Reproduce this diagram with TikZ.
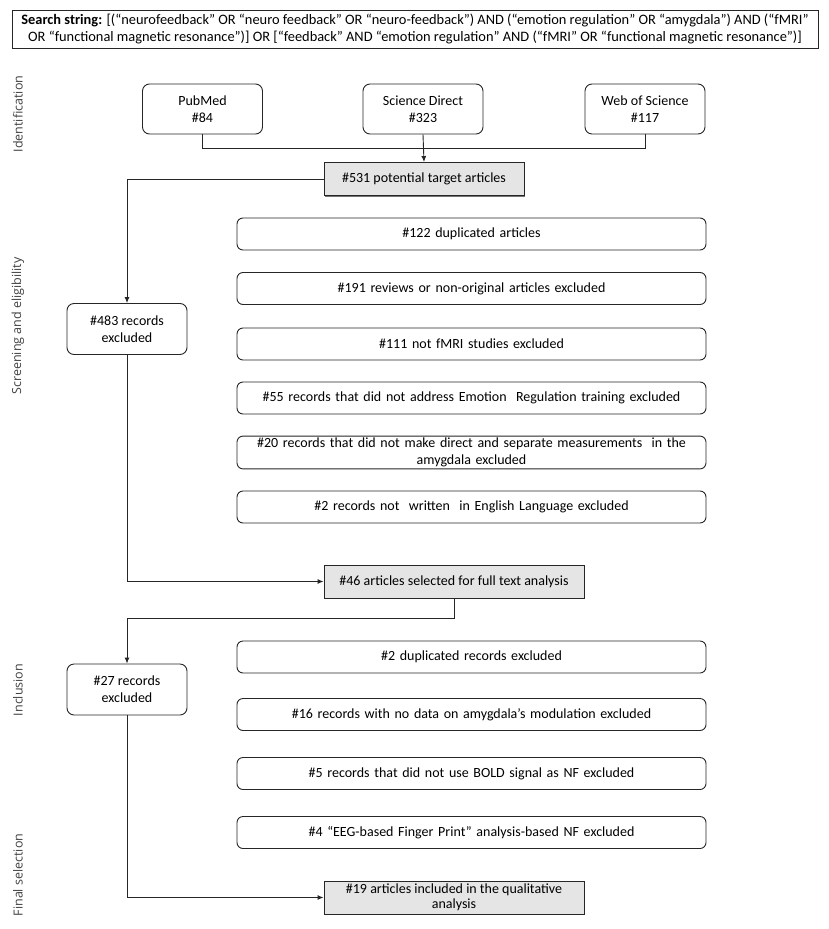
\documentclass[tikz,border=0pt]{standalone}
\usepackage{fontspec}
\setmainfont{Carlito}
\newfontfamily\phasefont{Open Sans}
\usetikzlibrary{arrows.meta,shadows}

\tikzset{
    flowbox/.style = {draw = black!85, line width = 0.9pt, align = center, inner sep = 2pt,
                      font = \fontsize{14}{16.7}\selectfont, text = black},
    srcbox/.style = {flowbox, rounded corners = 7pt, minimum width = 120pt, minimum height = 50pt},
    exclbox/.style = {flowbox, rounded corners = 6pt, minimum width = 469pt, minimum height = 32pt, text width = 462pt},
    sidebox/.style = {flowbox, rounded corners = 7pt, minimum width = 120pt, minimum height = 51pt},
    keybox/.style = {flowbox, fill = black!10, minimum height = 33pt,
                     drop shadow = {shadow xshift = 1pt, shadow yshift = -1pt, fill = black!55, opacity = 1}},
    phase/.style = {rotate = 90, font = \phasefont\fontsize{12.5}{14}\selectfont, text = black!75},
    link/.style = {draw = black!85, line width = 0.9pt},
    arrowlink/.style = {link, -{Latex[length = 6pt, width = 5pt]}}
}

\begin{document}
\begin{tikzpicture}[x = 1pt, y = -1pt]
    \useasboundingbox (0,0) rectangle (829,929);

    % search string
    \node[flowbox, rounded corners = 0pt, minimum width = 806pt, minimum height = 38pt, inner sep = 1pt,
          font = \fontsize{14.4}{16.5}\selectfont] (search) at (415,29)
        {\textbf{Search string:} [(“neurofeedback” OR “neuro feedback” OR “neuro-feedback”) AND (“emotion regulation” OR “amygdala”) AND (“fMRI”\\
         OR “functional magnetic resonance”)] OR [“feedback” AND “emotion regulation” AND (“fMRI” OR “functional magnetic resonance”)]};

    % phases
    \node[phase] (identification) at (18,114) {Identification};
    \node[phase] (screening) at (18,326) {Screening and eligibility};
    \node[phase] (inclusion) at (18,690) {Inclusion};
    \node[phase] (finalsel) at (18,875) {Final selection};

    % identification
    \node[srcbox] (pubmed) at (202.5,109) {PubMed\\\#84};
    \node[srcbox] (scidirect) at (423,109) {Science Direct\\\#323};
    \node[srcbox] (wos) at (645,109) {Web of Science\\\#117};
    \node[keybox, minimum width = 200pt] (potential) at (424,179) {\#531 potential target articles};

    \draw[link] (pubmed.south) |- (645,148) -- (wos.south);
    \draw[arrowlink] (scidirect.south) -- (potential.north);

    % screening and eligibility
    \node[exclbox] (duplicated) at (471.5,234) {\#122 duplicated articles};
    \node[exclbox] (reviews) at (471.5,288.5) {\#191 reviews or non-original articles excluded};
    \node[exclbox] (notfmri) at (471.5,344) {\#111 not fMRI studies excluded};
    \node[exclbox] (noemotion) at (471.5,398) {\#55 records that did not address Emotion~ Regulation training excluded};
    \node[exclbox] (noamygdala) at (471.5,452.5) {\#20 records that did not make direct and separate measurements~ in the\\amygdala excluded};
    \node[exclbox] (noenglish) at (471.5,507) {\#2 records not~ written~ in English Language excluded};
    \node[sidebox] (screenexcl) at (127,329) {\#483 records\\excluded};
    \node[keybox, minimum width = 260pt] (fulltext) at (454,581.5) {\#46 articles selected for full text analysis};

    \draw[arrowlink] (potential.west) -| (screenexcl.north);
    \draw[arrowlink] (screenexcl.south) |- (fulltext.west);

    % inclusion
    \node[exclbox] (duprecords) at (471.5,657) {\#2 duplicated records excluded};
    \node[exclbox] (nodata) at (471.5,714.5) {\#16 records with no data on amygdala’s modulation excluded};
    \node[exclbox] (nobold) at (471.5,773.5) {\#5 records that did not use BOLD signal as NF excluded};
    \node[exclbox] (fingerprint) at (471.5,832.5) {\#4 “EEG-based Finger Print” analysis-based NF excluded};
    \node[sidebox] (inclexcl) at (127,689.5) {\#27 records\\excluded};
    \node[keybox, minimum width = 260pt, font = \fontsize{14}{15.5}\selectfont] (included) at (454,897.5) {\#19 articles included in the qualitative\\analysis};

    \draw[arrowlink] (fulltext.south) |- (127,618) -- (inclexcl.north);
    \draw[arrowlink] (inclexcl.south) |- (included.west);
\end{tikzpicture}
\end{document}
